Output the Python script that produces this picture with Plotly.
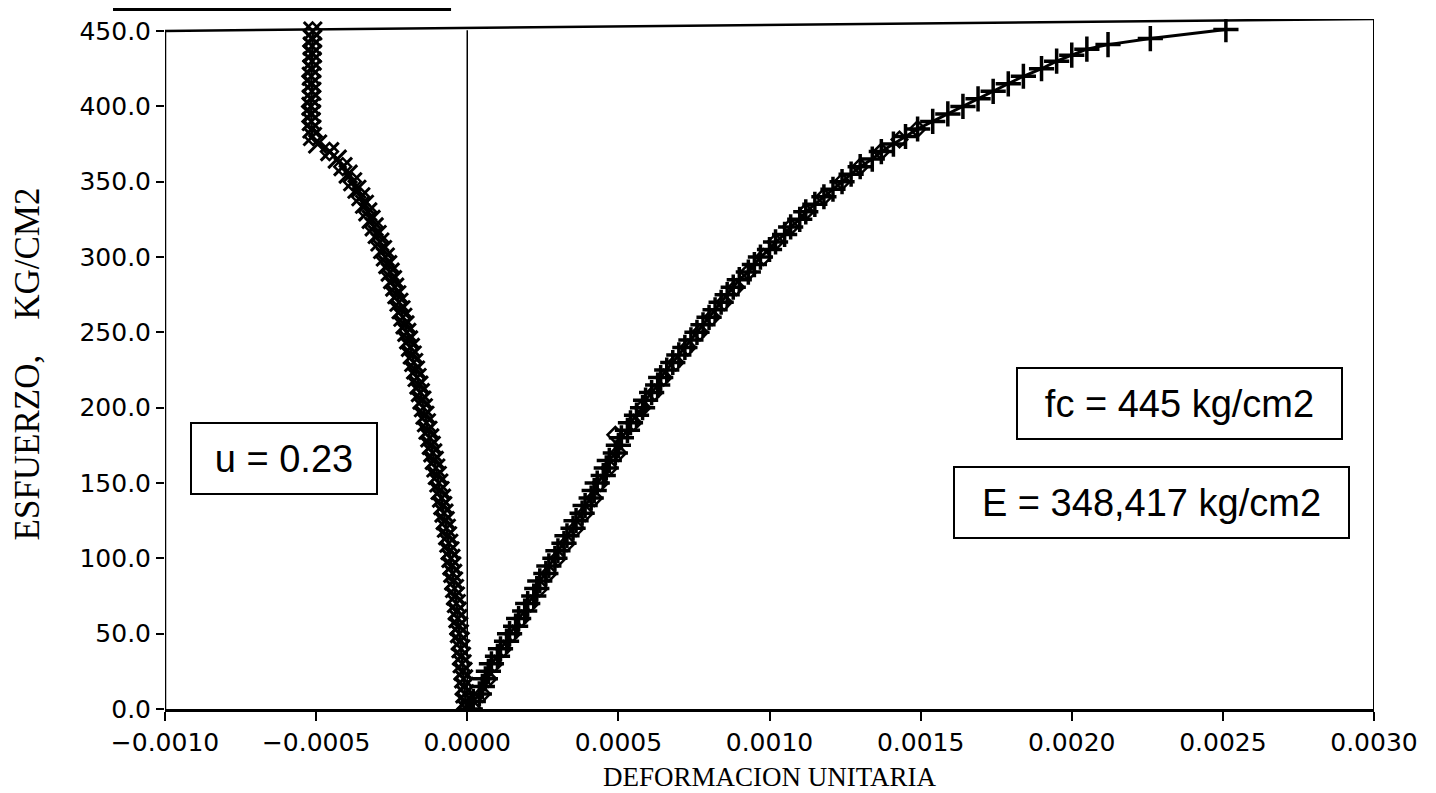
import plotly.graph_objects as go

# ---------------- data ----------------
# Axial strain, gauge 1 ("+" markers)
axial_stress = [0, 5, 10, 15, 20, 25, 30, 35, 40, 45, 50, 55, 60, 65, 70, 75, 80, 85, 90, 95,
                100, 105, 110, 115, 120, 125, 130, 135, 140, 145, 150, 155, 160, 165, 170, 175,
                180, 185, 190, 195, 200, 205, 210, 215, 220, 225, 230, 235, 240, 245, 250, 255,
                260, 265, 270, 275, 280, 285, 290, 295, 300, 305, 310, 315, 320, 325, 330, 335,
                340, 345, 350, 355, 360, 365, 370, 375, 380, 385, 390, 395, 400, 405, 410, 415,
                420, 425, 430, 434, 438, 441, 445, 451]
axial_strain = [0.00001, 0.00002, 0.00004, 0.00005, 0.00006, 0.00007, 0.00008, 0.00010, 0.00011,
                0.00013, 0.00014, 0.00016, 0.00017, 0.00019, 0.00020, 0.00022, 0.00023, 0.00024,
                0.00026, 0.00027, 0.00029, 0.00030, 0.00032, 0.00033, 0.00035, 0.00036, 0.00038,
                0.00039, 0.00041, 0.00042, 0.00043, 0.00045, 0.00046, 0.00047, 0.00049, 0.00050,
                0.00051, 0.00053, 0.00054, 0.00056, 0.00058, 0.00059, 0.00061, 0.00063, 0.00064,
                0.00066, 0.00068, 0.00070, 0.00072, 0.00074, 0.00076, 0.00078, 0.00080, 0.00082,
                0.00084, 0.00086, 0.00088, 0.00090, 0.00093, 0.00095, 0.00097, 0.00100, 0.00102,
                0.00105, 0.00107, 0.00110, 0.00112, 0.00115, 0.00118, 0.00121, 0.00124, 0.00127,
                0.00130, 0.00134, 0.00137, 0.00141, 0.00145, 0.00149, 0.00154, 0.00159, 0.00164,
                0.00169, 0.00174, 0.00179, 0.00184, 0.00190, 0.00195, 0.00200, 0.00205, 0.00212,
                0.00226, 0.00251]

# Axial strain, gauge 2 (open diamonds, overlapping gauge 1)
axial2_stress = [0, 10, 20, 30, 40, 50, 60, 70, 80, 90, 100, 110, 120, 130, 140, 150, 160, 170,
                 182, 190, 200, 210, 220, 230, 240, 250, 260, 270, 280, 290, 300, 310, 320, 330,
                 340, 350, 360, 370, 378, 385]
axial2_strain = [0.00002, 0.00005, 0.00007, 0.00009, 0.00012, 0.00015, 0.00018, 0.00021, 0.00024,
                 0.00027, 0.00030, 0.00033, 0.00036, 0.00039, 0.00042, 0.00044, 0.00047, 0.00050,
                 0.00049, 0.00055, 0.00058, 0.00062, 0.00065, 0.00069, 0.00073, 0.00077, 0.00081,
                 0.00085, 0.00089, 0.00093, 0.00098, 0.00102, 0.00107, 0.00112, 0.00118, 0.00124,
                 0.00130, 0.00137, 0.00143, 0.00149]

# Lateral strain, gauge 1 ("x" markers)
lateral_stress = [0, 5, 10, 15, 20, 25, 30, 35, 40, 45, 50, 55, 60, 65, 70, 75, 80, 85, 90, 95,
                  100, 105, 110, 115, 120, 125, 130, 135, 140, 145, 150, 155, 160, 165, 170, 175,
                  180, 185, 190, 195, 200, 205, 210, 215, 220, 225, 230, 235, 240, 245, 250, 255,
                  260, 265, 270, 275, 280, 285, 290, 295, 300, 305, 310, 315, 320, 325, 330, 335,
                  340, 345, 350, 355, 360, 365, 370, 375, 380, 385, 390, 395, 400, 405, 410, 415,
                  420, 425, 430, 435, 440, 445, 450]
lateral_strain = [-0.000003, -0.000005, -0.000008, -0.000010, -0.000012, -0.000014, -0.000017,
                  -0.000019, -0.000021, -0.000023, -0.000026, -0.000028, -0.000031, -0.000033,
                  -0.000036, -0.000039, -0.000042, -0.000045, -0.000048, -0.000051, -0.000054,
                  -0.000057, -0.000061, -0.000065, -0.000069, -0.000073, -0.000077, -0.000081,
                  -0.000085, -0.000090, -0.000094, -0.000099, -0.000104, -0.000109, -0.000114,
                  -0.000119, -0.000124, -0.000130, -0.000135, -0.000140, -0.000145, -0.000150,
                  -0.000155, -0.000160, -0.000166, -0.000171, -0.000177, -0.000182, -0.000188,
                  -0.000194, -0.000200, -0.000206, -0.000213, -0.000219, -0.000226, -0.000233,
                  -0.000240, -0.000247, -0.000255, -0.000263, -0.000271, -0.000280, -0.000289,
                  -0.000298, -0.000308, -0.000318, -0.000329, -0.000340, -0.000352, -0.000365,
                  -0.000379, -0.000394, -0.000411, -0.000430, -0.000455, -0.000495, -0.000512,
                  -0.000514, -0.000516, -0.000515, -0.000517, -0.000516, -0.000514, -0.000515,
                  -0.000516, -0.000514, -0.000513, -0.000512, -0.000513, -0.000512, -0.000511]

# Lateral strain, gauge 2 (open diamonds, overlapping gauge 1)
lateral2_stress = [0, 10, 20, 30, 40, 50, 60, 70, 80, 90, 100, 110, 120, 130, 140, 150, 160, 170,
                   180, 190, 200, 210, 220, 230, 240, 250, 260, 270, 280, 290, 300, 310, 320, 330,
                   340, 350, 360, 370, 380, 390, 400, 410, 420, 430, 440, 450]
lateral2_strain = [-0.000005, -0.000009, -0.000013, -0.000018, -0.000022, -0.000027, -0.000032,
                   -0.000037, -0.000043, -0.000049, -0.000055, -0.000062, -0.000070, -0.000078,
                   -0.000086, -0.000095, -0.000105, -0.000115, -0.000125, -0.000136, -0.000146,
                   -0.000156, -0.000167, -0.000178, -0.000189, -0.000201, -0.000214, -0.000227,
                   -0.000241, -0.000256, -0.000272, -0.000290, -0.000309, -0.000330, -0.000353,
                   -0.000380, -0.000412, -0.000456, -0.000510, -0.000517, -0.000518, -0.000515,
                   -0.000517, -0.000514, -0.000514, -0.000512]

x_ticks = [-0.0010, -0.0005, 0.0000, 0.0005, 0.0010, 0.0015, 0.0020, 0.0025, 0.0030]
x_tick_labels = ["\u22120.0010", "\u22120.0005", "0.0000", "0.0005", "0.0010", "0.0015",
                 "0.0020", "0.0025", "0.0030"]
y_ticks = [0, 50, 100, 150, 200, 250, 300, 350, 400, 450]
y_tick_labels = ["0.0", "50.0", "100.0", "150.0", "200.0", "250.0", "300.0", "350.0",
                 "400.0", "450.0"]

x_title = "DEFORMACION UNITARIA"
y_title = "ESFUERZO,\u00a0\u00a0\u00a0\u00a0KG/CM2"
box_texts = ["u = 0.23", "fc = 445 kg/cm2", "E = 348,417 kg/cm2"]
box_x = [-0.000605, 0.002356, 0.002263]
box_y = [166, 203, 137]
box_w = [184, 323, 393]

# ---------------- figure ----------------
fig = go.Figure()

fig.add_trace(go.Scatter(
    x=lateral_strain, y=lateral_stress, mode="lines+markers",
    line=dict(color="black", width=2.5),
    marker=dict(symbol="x-thin", size=18, color="black", line=dict(color="black", width=3)),
    showlegend=False))
fig.add_trace(go.Scatter(
    x=lateral2_strain, y=lateral2_stress, mode="markers",
    marker=dict(symbol="diamond-open", size=13, color="black", line=dict(color="black", width=2.5)),
    showlegend=False))
fig.add_trace(go.Scatter(
    x=axial_strain, y=axial_stress, mode="lines+markers",
    line=dict(color="black", width=3),
    marker=dict(symbol="cross-thin", size=18, color="black", line=dict(color="black", width=3.5)),
    showlegend=False))
fig.add_trace(go.Scatter(
    x=axial2_strain, y=axial2_stress, mode="markers",
    marker=dict(symbol="diamond-open", size=12, color="black", line=dict(color="black", width=2.5)),
    showlegend=False))

tick_font = dict(family="DejaVu Sans", size=25, color="black")
title_font_x = dict(family="Liberation Serif", size=27, color="black")
title_font_y = dict(family="Liberation Serif", size=35, color="black")

fig.update_xaxes(
    range=[-0.0010, 0.0030], tickvals=x_ticks, ticktext=x_tick_labels,
    showgrid=False, zeroline=False, showline=True, linecolor="black", linewidth=2.5,
    ticks="outside", ticklen=9, tickwidth=2, tickcolor="black", tickfont=tick_font,
    automargin=False,
    title=dict(text=x_title, font=title_font_x, standoff=12))
fig.update_yaxes(
    range=[0, 458], tickvals=y_ticks, ticktext=y_tick_labels,
    showgrid=False, zeroline=False, showline=False,
    ticks="outside", ticklen=8, tickwidth=2, tickcolor="black", tickfont=tick_font,
    automargin=False,
    title=dict(text=y_title, font=title_font_y, standoff=40))

# frame (slightly skewed top edge as in the scanned original)
shapes = [
    dict(type="line", xref="x", yref="y", x0=-0.00104, y0=450, x1=0.0030, y1=458,
         line=dict(color="black", width=2.5)),
    dict(type="line", xref="x", yref="y", x0=0.0030, y0=0, x1=0.0030, y1=458,
         line=dict(color="black", width=2)),
    dict(type="line", xref="x", yref="y", x0=-0.0010, y0=0, x1=-0.0010, y1=450.5,
         line=dict(color="black", width=2.5)),
    dict(type="line", xref="x", yref="y", x0=0.0, y0=0, x1=0.0, y1=450.6,
         line=dict(color="black", width=1.5)),
    dict(type="line", xref="paper", yref="paper", x0=-0.043, y0=1.0145, x1=0.2366, y1=1.0145,
         line=dict(color="black", width=4)),
]
fig.update_layout(shapes=shapes)

for t, bx, by, bw in zip(box_texts, box_x, box_y, box_w):
    fig.add_annotation(
        x=bx, y=by, xref="x", yref="y", text=t, showarrow=False,
        font=dict(family="Liberation Sans", size=38, color="black"),
        bordercolor="black", borderwidth=2, borderpad=0, bgcolor="white",
        width=bw, height=69, align="center", valign="middle")

fig.update_layout(
    width=1436, height=793,
    margin=dict(l=157, r=70, t=11, b=92),
    paper_bgcolor="white", plot_bgcolor="white",
)

fig.write_html("out.html")
